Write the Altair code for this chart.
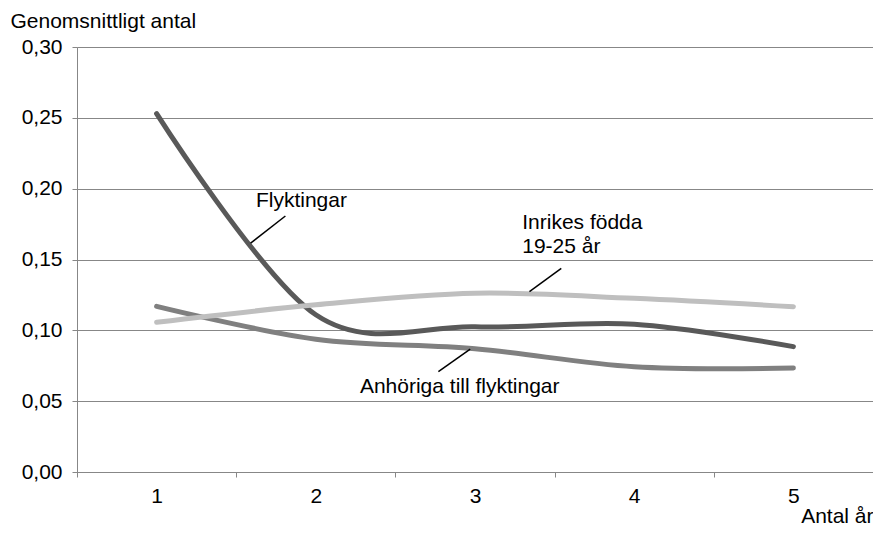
import altair as alt
import pandas as pd

# ---- data ----
years = [1, 2, 3, 4, 5]
flyktingar = [0.253, 0.111, 0.1025, 0.1043, 0.0885]
anhoriga = [0.1169, 0.0937, 0.0870, 0.0743, 0.0734]
inrikes = [0.1057, 0.118, 0.1262, 0.1226, 0.1167]

series_names = ["Flyktingar", "Anhöriga till flyktingar", "Inrikes födda 19-25 år"]
series_colors = ["#595959", "#808080", "#bfbfbf"]

y_ticks = [0.0, 0.05, 0.10, 0.15, 0.20, 0.25, 0.30]
x_ticks = [0.5, 1, 1.5, 2, 2.5, 3, 3.5, 4, 4.5, 5, 5.5]

# annotation labels (data units)
label_text = ["Flyktingar", "Inrikes födda", "19-25 år", "Anhöriga till flyktingar"]
label_x = [1.624, 3.2965, 3.2965, 2.277]
label_y = [0.187, 0.1716, 0.1546, 0.0556]

# leader lines (data units)
lead_x = [1.5905, 3.342, 2.770]
lead_y = [0.1615, 0.1273, 0.0708]
lead_x2 = [1.809, 3.542, 2.970]
lead_y2 = [0.1807, 0.1438, 0.0868]

rows = []
for name, vals in zip(series_names, [flyktingar, anhoriga, inrikes]):
    for yr, v in zip(years, vals):
        rows.append({"series": name, "x": yr, "y": v})
df = pd.DataFrame(rows)

labels_df = pd.DataFrame({"text": label_text, "x": label_x, "y": label_y})
leads_df = pd.DataFrame({"x": lead_x, "y": lead_y, "x2": lead_x2, "y2": lead_y2})

FONT = "Liberation Sans"
GRID = "#878787"
W = 796
H = 425

x_scale = alt.Scale(domain=[0.5, 5.5], nice=False, zero=False)
y_scale = alt.Scale(domain=[0, 0.30], nice=False)

lines = alt.Chart(df).mark_line(
    strokeWidth=5, strokeCap="round", strokeJoin="round", interpolate="cardinal", tension=0
).encode(
    x=alt.X(
        "x:Q",
        scale=x_scale,
        axis=alt.Axis(
            values=x_ticks,
            labelExpr="datum.value % 1 == 0 ? format(datum.value, 'd') : ''",
            tickOpacity={"condition": {"test": "datum.value % 1 == 0", "value": 0}, "value": 1},
            grid=False,
            tickSize=5,
            tickColor=GRID,
            domainColor=GRID,
            labelPadding=8,
            labelFontSize=21,
            labelColor="black",
            labelFont=FONT,
            title="Antal år",
            titleFont=FONT,
            titleFontSize=21,
            titleFontWeight="normal",
            titleColor="black",
            titleAlign="right",
            titleBaseline="alphabetic",
            titleX=W,
            titleY=50,
        ),
    ),
    y=alt.Y(
        "y:Q",
        scale=y_scale,
        axis=alt.Axis(
            values=y_ticks,
            labelExpr="replace(format(datum.value, '.2f'), '.', ',')",
            grid=True,
            gridColor=GRID,
            gridWidth=1,
            tickSize=5,
            tickColor=GRID,
            domainColor=GRID,
            labelPadding=10,
            labelFontSize=21,
            labelColor="black",
            labelFont=FONT,
            title="Genomsnittligt antal",
            titleFont=FONT,
            titleFontSize=21,
            titleFontWeight="normal",
            titleColor="black",
            titleAngle=0,
            titleAlign="left",
            titleBaseline="alphabetic",
            titleX=-67,
            titleY=-20,
        ),
    ),
    color=alt.Color(
        "series:N",
        scale=alt.Scale(domain=series_names, range=series_colors),
        legend=None,
    ),
    order=alt.Order("x:Q"),
)

texts = alt.Chart(labels_df).mark_text(
    align="left", baseline="alphabetic", fontSize=21, font=FONT, color="black"
).encode(
    x=alt.X("x:Q", scale=x_scale),
    y=alt.Y("y:Q", scale=y_scale),
    text="text:N",
)

leads = alt.Chart(leads_df).mark_rule(color="black", strokeWidth=1.5).encode(
    x=alt.X("x:Q", scale=x_scale),
    y=alt.Y("y:Q", scale=y_scale),
    x2="x2:Q",
    y2="y2:Q",
)

chart = alt.layer(lines, leads, texts).properties(
    width=W,
    height=H,
    autosize=alt.AutoSizeParams(type="none"),
    padding={"left": 69, "top": 39, "right": 0, "bottom": 53},
).configure_view(stroke=None).configure(font=FONT)

chart.save("out.html", embed_options={"renderer": "svg", "actions": False})
